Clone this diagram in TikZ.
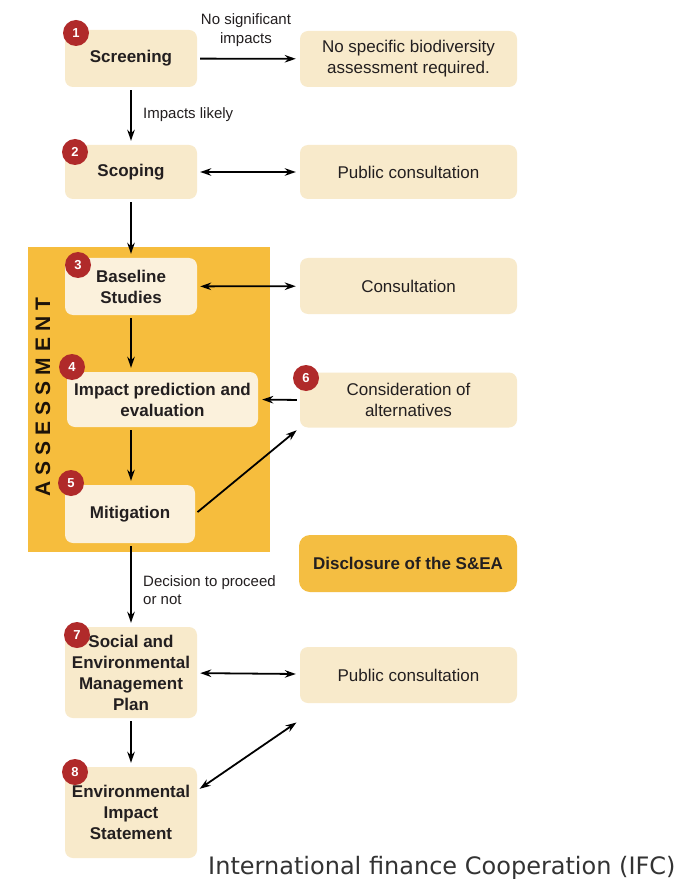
\documentclass[tikz,border=0pt]{standalone}
\usepackage{fontspec}
\setmainfont{Liberation Sans}
\newfontfamily\footfont{DejaVu Sans}
\usetikzlibrary{arrows.meta}
\definecolor{boxfill}{HTML}{F8EACB}
\definecolor{boxin}{HTML}{FBF1DC}
\definecolor{assess}{HTML}{F6BD3D}
\definecolor{disc}{HTML}{F4BE42}
\definecolor{badgered}{HTML}{B02A2A}
\definecolor{txt}{HTML}{231F20}
\begin{document}
\begin{tikzpicture}[x=1pt,y=-1pt,
  box/.style 2 args={rounded corners=8pt, fill=boxfill, minimum width=#1, minimum height=#2,
    align=center, inner sep=1pt, text=txt, font=\fontsize{17}{21}\selectfont},
  lbox/.style 2 args={box={#1}{#2}, font=\fontsize{17}{21}\selectfont\bfseries},
  inbox/.style 2 args={lbox={#1}{#2}, fill=boxin},
  badge/.style={circle, fill=badgered, minimum size=26pt, inner sep=0pt, text=white,
    font=\fontsize{13}{13}\selectfont\bfseries},
  arr/.style={-{Stealth[length=11pt,width=7.5pt]}, line width=1.8pt, shorten >=4pt, shorten <=3pt},
  darr/.style={{Stealth[length=11pt,width=7.5pt]}-{Stealth[length=11pt,width=7.5pt]}, line width=1.8pt, shorten >=4pt, shorten <=3pt},
  lbl/.style={font=\fontsize{15}{18.5}\selectfont, text=txt, inner sep=0pt}
]
\useasboundingbox[fill=white] (0,0) rectangle (700,882);

% assessment band
\fill[assess] (28,247) rectangle (270,552);
\node[rotate=90, font=\fontsize{21}{21}\selectfont\bfseries, text=black!85!brown, inner sep=0pt] (asslbl) at (43,397)
  {A\kern6pt S\kern6pt S\kern6pt E\kern6pt S\kern6pt S\kern6pt M\kern6pt E\kern6pt N\kern6pt T};

% left column
\node[lbox={132}{57}] (scr) at (131,58.5) {Screening};
\node[lbox={132}{54}] (sco) at (131,172) {Scoping};
\node[inbox={132}{57}] (bas) at (131,286.5) {Baseline\\Studies};
\node[inbox={191}{55}] (imp) at (162.5,399.5) {Impact prediction and\\evaluation};
\node[inbox={130}{58}] (mit) at (130,514) {Mitigation};
\node[lbox={132}{91}] (semp) at (131,672.5) {Social and\\Environmental\\Management\\Plan};
\node[lbox={132}{91}] (eis) at (131,812.5) {Environmental\\Impact\\Statement};

% right column
\node[box={217}{56}] (nos) at (408.5,59) {No specific biodiversity\\assessment required.};
\node[box={217}{54}] (pub1) at (408.5,172) {Public consultation};
\node[box={217}{56}] (con) at (408.5,286) {Consultation};
\node[box={217}{55}] (alt) at (408.5,400) {Consideration of\\alternatives};
\node[box={218}{57}, fill=disc, rounded corners=11pt, font=\fontsize{17}{21}\selectfont\bfseries] (dis) at (408,563.5) {Disclosure of the S\&EA};
\node[box={217}{56}] (pub2) at (408.5,675) {Public consultation};

% badges
\node[badge] (b1) at (76,33) {1};
\node[badge] (b2) at (75,152) {2};
\node[badge] (b3) at (78,265) {3};
\node[badge] (b4) at (72,367) {4};
\node[badge] (b5) at (71,483) {5};
\node[badge] (b6) at (306,378) {6};
\node[badge] (b7) at (77,635) {7};
\node[badge] (b8) at (75,772) {8};

% connectors
\draw[arr] (scr) -- (nos);
\draw[arr] (scr) -- (sco);
\draw[darr] (sco) -- (pub1);
\draw[arr] (sco) -- (bas);
\draw[darr] (bas) -- (con);
\draw[arr] (bas.south -| scr) -- (imp.north -| scr);
\draw[arr] (alt.west) -- (imp.east);
\draw[arr] (imp.south -| scr) -- (mit.north -| scr);
\draw[arr] (mit.east) -- (alt.south west);
\draw[arr] (mit.south -| scr) -- (semp.north -| scr);
\draw[darr] (semp) -- (pub2);
\draw[arr] (semp) -- (eis);
\coordinate (p2end) at ([yshift=-17pt]pub2.south west);
\draw[darr] ([yshift=22pt]eis.east) -- (p2end);

% labels
\node[lbl, align=center] (l1) at (246,30) {No significant\\impacts};
\node[lbl, anchor=west] (l2) at (143,115) {Impacts likely};
\node[lbl, anchor=west, align=left] (l3) at (143,590) {Decision to proceed\\or not};

\node[anchor=base west, inner sep=0pt, font=\footfont\fontsize{24}{24}\selectfont, text=black!80] (foot) at (208,874)
  {International finance Cooperation (IFC)};
\end{tikzpicture}
\end{document}
